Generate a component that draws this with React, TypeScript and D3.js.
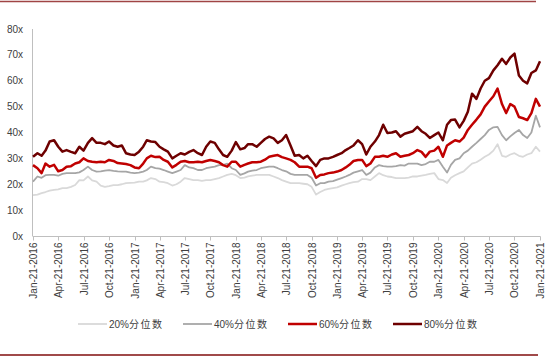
import React from "react";
import * as d3 from "d3";

const yTicks = [0, 10, 20, 30, 40, 50, 60, 70, 80];
const xTickLabels = [
  "Jan-21-2016", "Apr-21-2016", "Jul-21-2016", "Oct-21-2016",
  "Jan-21-2017", "Apr-21-2017", "Jul-21-2017", "Oct-21-2017",
  "Jan-21-2018", "Apr-21-2018", "Jul-21-2018", "Oct-21-2018",
  "Jan-21-2019", "Apr-21-2019", "Jul-21-2019", "Oct-21-2019",
  "Jan-21-2020", "Apr-21-2020", "Jul-21-2020", "Oct-21-2020",
  "Jan-21-2021",
];
const seriesNames = ["20%分位数", "40%分位数", "60%分位数", "80%分位数"];

// semi-monthly readings, Jan-21-2016 .. Jan-21-2021
const p20 = [
  15.8, 16, 16.6, 17, 17.5, 17.8, 18, 18.5, 18.5, 19, 19.7, 21.6, 21.5, 23, 21.5, 21, 19.5, 19, 19.3, 19.7,
  19.7, 20, 20.4, 20.5, 20.6, 21, 21, 21.5, 22.4, 22, 21, 20.8, 20.4, 19.5, 20, 21, 22.4, 22, 21.6, 21.6,
  21.3, 21.6, 21.6, 22, 22.4, 23, 23.6, 24, 23.5, 22.4, 22.6, 23, 23.3, 23.6, 23.6, 23.6, 23.6, 23, 22.4, 21.6,
  21, 20.4, 20.4, 20.4, 20.2, 20, 19, 16, 17, 17.8, 18.2, 18.5, 18.8, 19.5, 20, 20.4, 20.8, 21, 22, 22,
  21.6, 23, 24.3, 23.5, 23, 22.8, 22.4, 22.4, 22.4, 22.6, 23, 23, 23.3, 23.6, 24, 24.3, 22, 21.6, 20.5, 22.5,
  23.5, 24.3, 25, 26.5, 28, 28.5, 29.5, 30.6, 31.5, 33, 35.5, 31, 30.6, 31.5, 32, 31, 30.6, 31.5, 32, 34.5,
  32.6,
];
const p40 = [
  21, 23, 22.5, 23.5, 23.6, 23.6, 23.3, 24, 24.3, 24.3, 24.3, 24.6, 25.5, 26.8, 25.5, 24.9, 25, 25.3, 25.5, 25.2,
  25, 24.9, 24.9, 24.5, 24.3, 24.5, 24.9, 25.5, 26.8, 26.2, 26, 25.5, 24.9, 24.3, 24.9, 25.5, 27.4, 26.5, 26.2, 25.5,
  25.5, 26.2, 26.5, 26.8, 27.4, 27.4, 28, 26.2, 25.5, 23.6, 24.2, 24.9, 25.3, 25.5, 26.2, 26.5, 26.8, 26.8, 26.2, 25.5,
  25, 24, 23.6, 23.6, 23.6, 23.6, 22.5, 19.5, 20.4, 20.4, 21, 21.2, 21.8, 22.4, 23, 23.6, 24.5, 25, 25.5, 23.6,
  24.5, 26.5, 27.4, 27, 26.8, 26.8, 27, 27.4, 27.2, 28, 28, 28, 27.4, 27.8, 28.7, 28.7, 29.4, 26.8, 24.5, 27.5,
  29.4, 30, 32, 33, 34.5, 36, 37.5, 39, 41, 42, 42.2, 39, 37, 38.5, 39.8, 41, 39, 37.9, 40, 46.5,
  42,
];
const p60 = [
  27.4, 26.2, 24.3, 28, 26.8, 27.5, 25, 25.5, 26.8, 27, 28, 28.5, 30, 29, 28.7, 28.5, 28.7, 28.5, 29.4, 29,
  28.2, 28, 27.8, 27.4, 26.5, 26.2, 28, 30, 31, 30.5, 30.6, 29.4, 28.7, 26.5, 27.5, 28.7, 29, 28.5, 28.5, 28.7,
  28.5, 29, 29.4, 29, 28.5, 27.4, 26.8, 28.7, 28.7, 26.8, 27.5, 28, 28.5, 28.5, 28.7, 29.5, 30.6, 31, 31.3, 30.5,
  30, 29.4, 28.5, 26.8, 26.8, 26.8, 26.2, 22.5, 23.6, 23.8, 24.3, 24.5, 24.9, 25.5, 26.5, 27.5, 29, 29.4, 29.4, 27,
  28, 30.6, 30.6, 31, 30.6, 31.5, 32, 30.6, 31, 31.3, 32, 33.2, 32.5, 30.6, 32.6, 33, 34.5, 30.6, 35, 36,
  37, 36.5, 38, 41, 43, 45, 47, 50, 52, 54, 57, 51, 47.5, 51, 50, 46, 45.5, 44.8, 47.5, 53,
  50,
];
const p80 = [
  30.6, 32, 31, 33, 36.5, 37, 34.5, 32.6, 33.2, 32.5, 32, 34.5, 33, 36, 37.8, 36, 36, 35.5, 36.5, 35,
  34.5, 35, 32, 31.5, 31.3, 32.6, 34.5, 37, 36.5, 36.3, 34.5, 33.5, 32.6, 30, 31, 32, 31.5, 32.5, 33.2, 32,
  31.3, 34.5, 36.5, 36, 33.5, 31.3, 30.6, 33, 36.3, 33.5, 34, 35.5, 35.5, 34.5, 36, 37.5, 38.4, 37.7, 36, 37,
  39, 35, 31, 31.3, 30, 31, 29, 27, 29.4, 30, 30, 30.6, 31.3, 32, 33.2, 34, 35, 37, 35.5, 31.5,
  34.5, 36.5, 39, 43, 39.8, 40, 40.5, 38.4, 39.5, 40, 40.5, 42.2, 40.5, 39.5, 37.9, 39, 40, 37, 43, 44.8,
  45, 42, 44.5, 48, 55, 53, 57, 60, 61, 64, 66, 68.5, 66.5, 69, 70.5, 62, 60, 59, 63, 64,
  67.5,
];

const seriesValues = [p20, p40, p60, p80];
const colors = ["#d9d9d9", "#a6a6a6", "#c00000", "#6e0000"];
const widths = [1.8, 1.8, 2.5, 2.5];

const W = 550;
const H = 358;

export default function App() {
  const parse = d3.timeParse("%b-%d-%Y");
  const tickDates = xTickLabels.map((s) => parse(s) as Date);
  const start = tickDates[0];
  const end = tickDates[tickDates.length - 1];
  const dates = p20.map((_, i) => {
    const m = Math.floor(i / 2);
    return i % 2 === 0
      ? new Date(2016, m, 21)
      : new Date(2016, m + 1, 6);
  });

  const x = d3.scaleTime().domain([start, end]).range([33, 540]);
  const y = d3.scaleLinear().domain([0, 80]).range([236, 29]);

  const line = d3
    .line<number>()
    .x((_, i) => x(dates[i]))
    .y((d) => y(d));

  const font = "'Liberation Sans', Arial, 'Noto Sans CJK SC', sans-serif";
  const legendX = [78, 183, 288, 393];

  return (
    <svg
      width={W}
      height={H}
      style={{ position: "absolute", left: 0, top: 0, background: "#fff" }}
      fontFamily={font}
    >
      <rect x={0} y={0} width={W} height={H} fill="#fff" />
      <line x1={0} x2={536} y1={1.5} y2={1.5} stroke="#a04444" strokeWidth={1.5} />
      <line x1={0} x2={538} y1={355} y2={355} stroke="#a04a4a" strokeWidth={2} />

      {/* y axis */}
      <line x1={32.5} x2={32.5} y1={y(80)} y2={y(0)} stroke="#bfbfbf" strokeWidth={1} />
      {yTicks.map((t) => (
        <text
          key={t}
          x={23}
          y={y(t)}
          dy="0.35em"
          textAnchor="end"
          fontSize={10}
          fill="#404040"
        >
          {t}x
        </text>
      ))}

      {/* x axis */}
      <line x1={32.5} x2={540.5} y1={236.5} y2={236.5} stroke="#bfbfbf" strokeWidth={1} />
      {tickDates.map((d, i) => (
        <g key={i} transform={`translate(${Math.round(x(d)) + 0.5},236.5)`}>
          <line y1={0} y2={4} stroke="#bfbfbf" />
          <text
            transform="rotate(-90)"
            x={-6}
            dy="0.35em"
            textAnchor="end"
            fontSize={10}
            fill="#404040"
          >
            {xTickLabels[i]}
          </text>
        </g>
      ))}

      {/* lines */}
      {seriesValues.map((vals, k) => (
        <path
          key={k}
          d={line(vals) || ""}
          fill="none"
          stroke={colors[k]}
          strokeWidth={widths[k]}
          strokeLinejoin="round"
        />
      ))}

      {/* legend */}
      {seriesNames.map((name, k) => (
        <g key={k} transform={`translate(${legendX[k]},324)`}>
          <line x1={0} x2={29} y1={0} y2={0} stroke={colors[k]} strokeWidth={widths[k]} />
          <text x={31} dy="0.35em" fontSize={10} fill="#404040">
            <tspan>{name.slice(0, 3)}</tspan>
            <tspan letterSpacing={1.5}>{name.slice(3)}</tspan>
          </text>
        </g>
      ))}
    </svg>
  );
}
